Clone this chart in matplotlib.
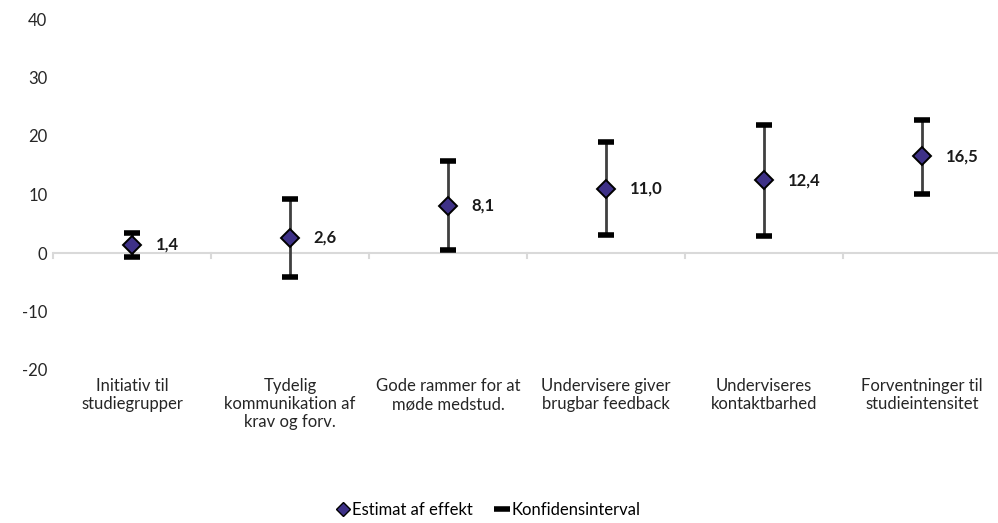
import matplotlib
matplotlib.use("Agg")
import matplotlib.pyplot as plt
from matplotlib.lines import Line2D
from matplotlib import font_manager

categories = [
    "Initiativ til\nstudiegrupper",
    "Tydelig\nkommunikation af\nkrav og forv.",
    "Gode rammer for at\nmøde medstud.",
    "Undervisere giver\nbrugbar feedback",
    "Underviseres\nkontaktbarhed",
    "Forventninger til\nstudieintensitet",
]
estimates = [1.4, 2.6, 8.1, 11.0, 12.4, 16.5]
ci_low = [-0.6, -4.1, 0.5, 3.0, 2.9, 10.1]
ci_high = [3.4, 9.2, 15.7, 18.9, 21.9, 22.7]
y_ticks = [-20, -10, 0, 10, 20, 30, 40]

installed = {f.name for f in font_manager.fontManager.ttflist}
family = ["Liberation Sans Narrow"] if "Liberation Sans Narrow" in installed else ["Lato"]
plt.rcParams["font.family"] = family + ["DejaVu Sans"]

fig = plt.figure(figsize=(9.98, 5.23), dpi=100)
ax = fig.add_axes([53 / 998, 1 - 370 / 523, 948 / 998, 351 / 523])

x = list(range(len(categories)))
lower_err = [e - lo for e, lo in zip(estimates, ci_low)]
upper_err = [hi - e for e, hi in zip(estimates, ci_high)]

ax.errorbar(x, estimates, yerr=[lower_err, upper_err], fmt="none",
            ecolor="#404040", elinewidth=2, capsize=0, zorder=2)
# thick black caps at both ends of each interval
ax.plot(x, ci_low, ls="none", marker="_", ms=11, mew=4, color="black", zorder=3)
ax.plot(x, ci_high, ls="none", marker="_", ms=11, mew=4, color="black", zorder=3)
ax.plot(x, estimates, ls="none", marker="D", ms=9, mfc="#3E3187",
        mec="black", mew=1.4, zorder=4)

for xi, e in zip(x, estimates):
    ax.annotate(f"{e:.1f}".replace(".", ","), (xi, e), xytext=(17, 0),
                textcoords="offset points", va="center", ha="left",
                fontsize=12, fontweight="bold", color="#1a1a1a")

ax.set_xlim(-0.5, len(categories) - 0.5)
ax.set_ylim(-20, 40)
ax.set_yticks(y_ticks)
ax.set_yticklabels([str(v) for v in y_ticks], fontsize=12, color="#262626")
ax.tick_params(axis="y", length=0, pad=4)

for s in ["top", "right", "left", "bottom"]:
    ax.spines[s].set_visible(False)
ax.axhline(0, color="#d9d9d9", lw=1.5, zorder=1)
for b in [i - 0.5 for i in range(len(categories) + 1)]:
    ax.plot([b, b], [0, -0.9], color="#d9d9d9", lw=1.5, zorder=1, clip_on=False)

ax.set_xticks(x)
ax.set_xticklabels([])
ax.tick_params(axis="x", length=0)
for xi, lab in zip(x, categories):
    ax.text(xi, -21.4, lab, ha="center", va="top", fontsize=12,
            color="#262626", linespacing=1.15)

handles = [
    Line2D([], [], ls="none", marker="D", ms=7, mfc="#3E3187", mec="black", mew=1),
    Line2D([], [], ls="none", marker="_", ms=12, mew=4, color="black"),
]
fig.legend(handles, ["Estimat af effekt", "Konfidensinterval"], loc="center",
           bbox_to_anchor=(0.49, 0.025), ncol=2, frameon=False, fontsize=12,
           handlelength=0.7, handletextpad=0.2, columnspacing=1.4)

fig.savefig("out.png", dpi=100)
